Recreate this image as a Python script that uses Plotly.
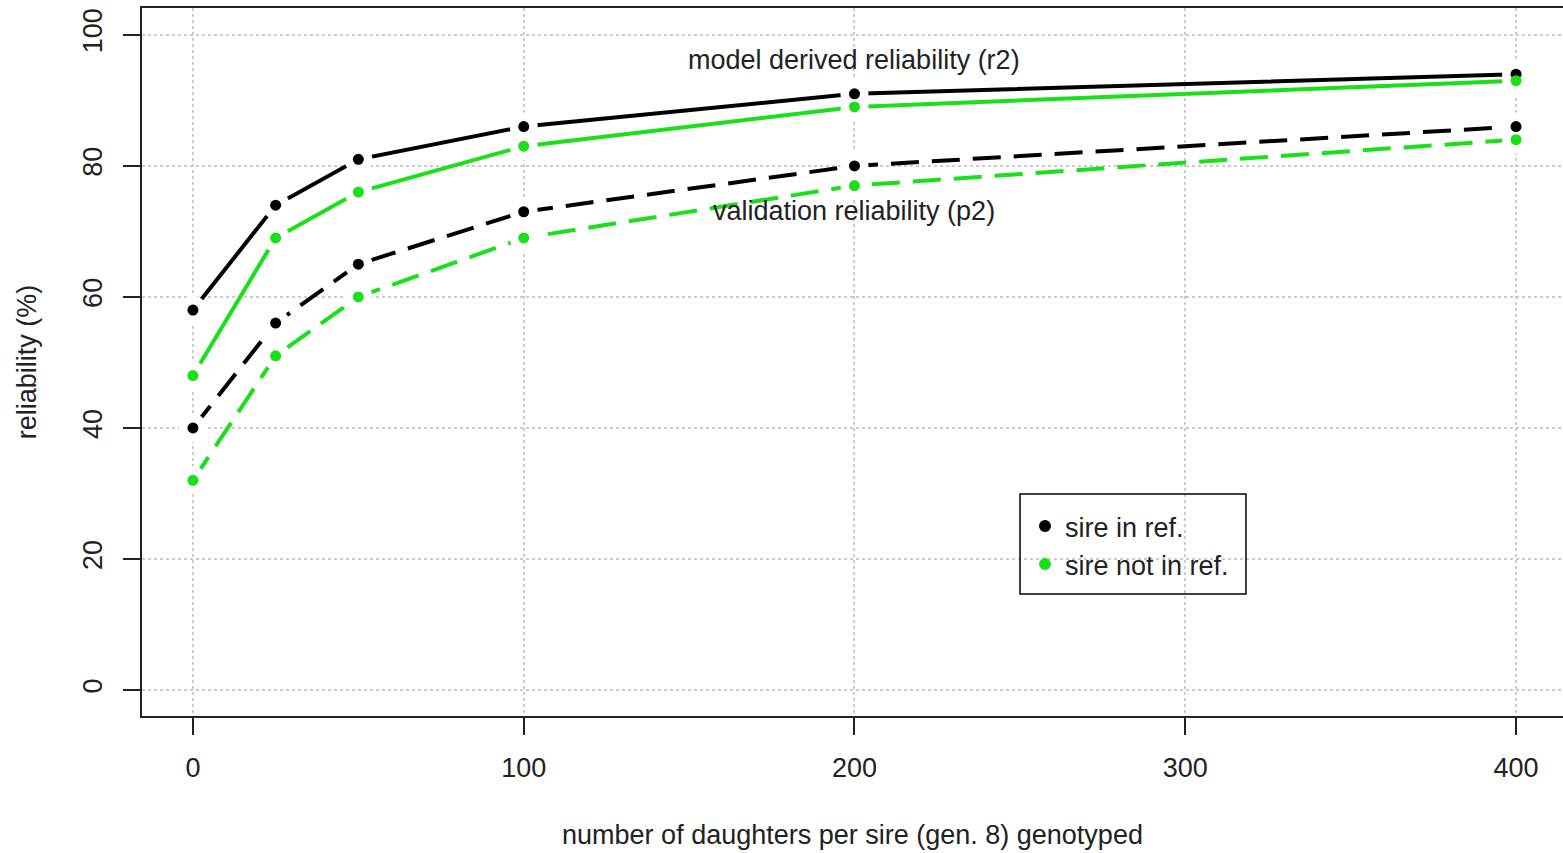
import plotly.graph_objects as go

daughters = [0, 25, 50, 100, 200, 400]
r2_in_ref = [58, 74, 81, 86, 91, 94]
r2_not_in_ref = [48, 69, 76, 83, 89, 93]
p2_in_ref = [40, 56, 65, 73, 80, 86]
p2_not_in_ref = [32, 51, 60, 69, 77, 84]

x_ticks = [0, 100, 200, 300, 400]
y_ticks = [0, 20, 40, 60, 80, 100]

BLACK = "#000000"
GREEN = "#19e019"
TXT = "#222222"
FONT = "Liberation Sans, Arial, sans-serif"
FS = 27

series = [
    (r2_in_ref, BLACK, "solid"),
    (r2_not_in_ref, GREEN, "solid"),
    (p2_in_ref, BLACK, "28px,13px"),
    (p2_not_in_ref, GREEN, "28px,13px"),
]

fig = go.Figure()
for y, c, d in series:
    fig.add_trace(go.Scatter(x=daughters, y=y, mode="lines",
                             line=dict(color=c, width=4, dash=d),
                             showlegend=False, hoverinfo="skip"))
for y, c, d in series:
    fig.add_trace(go.Scatter(x=daughters, y=y, mode="markers",
                             marker=dict(color="white", size=28),
                             showlegend=False, hoverinfo="skip"))
for y, c, d in series:
    fig.add_trace(go.Scatter(x=daughters, y=y, mode="markers",
                             marker=dict(color=c, size=11),
                             showlegend=False))

fig.add_trace(go.Scatter(x=[None], y=[None], mode="markers", name="sire in ref.",
                         marker=dict(color=BLACK, size=11)))
fig.add_trace(go.Scatter(x=[None], y=[None], mode="markers", name="sire not in ref.",
                         marker=dict(color=GREEN, size=11)))

fig.add_annotation(x=200, y=96.1, text="model derived reliability (r2)", showarrow=False,
                   font=dict(size=FS, color=TXT, family=FONT), xanchor="center", yanchor="middle")
fig.add_annotation(x=200, y=73.1, text="validation reliability (p2)", showarrow=False,
                   font=dict(size=FS, color=TXT, family=FONT), xanchor="center", yanchor="middle")

# legend frame
fig.add_shape(type="rect", xref="paper", yref="paper",
              x0=0.6179, x1=0.7769, y0=0.1723, y1=0.3136,
              line=dict(color="#000000", width=1.5), fillcolor="rgba(0,0,0,0)", layer="above")

fig.update_layout(
    width=1563, height=853,
    margin=dict(l=142, r=0, t=8, b=137, autoexpand=False),
    paper_bgcolor="white", plot_bgcolor="white",
    font=dict(family=FONT, size=FS, color=TXT),
    legend=dict(x=0.6214, y=0.3023, xanchor="left", yanchor="top",
                borderwidth=0, bgcolor="rgba(0,0,0,0)",
                font=dict(size=FS, family=FONT), itemsizing="constant",
                tracegroupgap=0),
    xaxis=dict(range=[-15.4, 414.2], tickvals=x_ticks, ticks="outside", ticklen=17,
               tickwidth=2, tickcolor=TXT, showline=True, linecolor=TXT,
               linewidth=2, mirror=True, showgrid=True, gridcolor="#cccccc",
               griddash="dot", gridwidth=1.5, zeroline=False, automargin=False,
               ticklabelstandoff=10,
               title=dict(text="number of daughters per sire (gen. 8) genotyped",
                          standoff=43, font=dict(size=FS))),
    yaxis=dict(range=[-3.97, 104.1], tickvals=y_ticks, ticks="outside", ticklen=17,
               tickwidth=2, tickcolor=TXT, tickangle=-90, showline=True,
               linecolor=TXT, linewidth=2, showgrid=True, gridcolor="#cccccc",
               griddash="dot", gridwidth=1.5, zeroline=False, automargin=False,
               ticklabelstandoff=10,
               title=dict(text="reliability (%)", standoff=34, font=dict(size=FS))),
)

fig.write_html("out.html", config={"displayModeBar": False},
               post_script="document.body.style.margin='0';document.body.style.overflow='hidden';")
